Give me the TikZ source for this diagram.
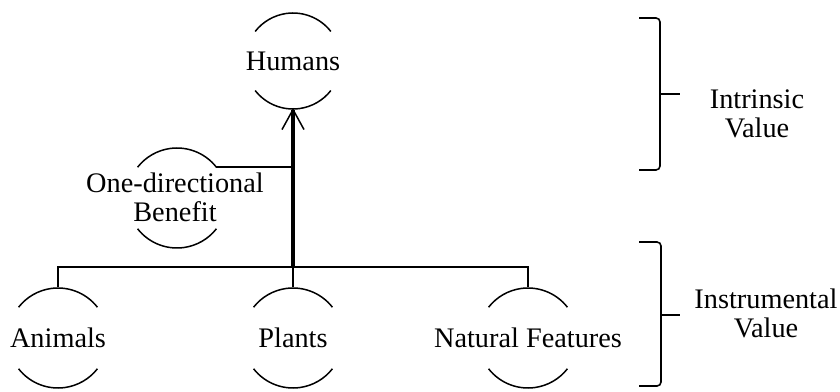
\documentclass[tikz,border=0pt]{standalone}
\usepackage{fontspec}
\setmainfont{Liberation Serif}
\usetikzlibrary{arrows.meta}
\begin{document}
\begin{tikzpicture}[x=1pt,y=1pt,
  lbl/.style={font=\fontsize{28.3}{29}\selectfont, align=center, inner sep=0pt},
  thinline/.style={line width=1.5pt},
  mainarrow/.style={line width=3.4pt, -{Straight Barb[length=20pt,width=22pt,line width=1.5pt]}},
  bracket/.style={line width=1.6pt, rounded corners=4pt}]
\useasboundingbox (0,0) rectangle (840,391);
% nodes
\node[lbl] (humans) at (293,330) {Humans};
\node[lbl] (benefit) at (175,193.5) {One-directional\\Benefit};
\node[lbl] (animals) at (58,53) {Animals};
\node[lbl] (plants) at (293,53) {Plants};
\node[lbl] (natural) at (528,53) {Natural Features};
\node[lbl] (intrinsic) at (757,277) {Intrinsic\\Value};
\node[lbl] (instrumental) at (766,78) {Instrumental\\Value};
% open circles (two arcs each)
\foreach \n/\r in {humans/48, animals/50, plants/50, natural/50} {
  \draw[thinline] (\n.center) ++(38:\r pt) arc[start angle=38, end angle=142, radius=\r pt];
  \draw[thinline] (\n.center) ++(218:\r pt) arc[start angle=218, end angle=322, radius=\r pt];
}
\draw[thinline] (177,193) ++(38:50pt) coordinate (bR) arc[start angle=38, end angle=142, radius=50pt];
\draw[thinline] (177,193) ++(218:50pt) arc[start angle=218, end angle=322, radius=50pt];
% connector points
\coordinate (aT) at (58,104);
\coordinate (pT) at (293,104);
\coordinate (nT) at (528,104);
\coordinate (hB) at (293,283);
\coordinate (junction) at (293,124);
% tree
\draw[thinline] (aT) -- ++(0,20) -| (nT);
\draw[thinline] (pT) -- (junction);
\draw[mainarrow] (junction) -- (hB);
\draw[thinline] (bR) -- (bR -| hB);
% brackets
\draw[bracket] (639,373) -- (660,373) -- (660,221) -- (639,221);
\coordinate (tip1) at (660,297);
\draw[thinline] (tip1) -- ++(20,0);
\draw[bracket] (639,149) -- (661,149) -- (661,5) -- (639,5);
\coordinate (tip2) at (661,76);
\draw[thinline] (tip2) -- ++(19,0);
\end{tikzpicture}
\end{document}
